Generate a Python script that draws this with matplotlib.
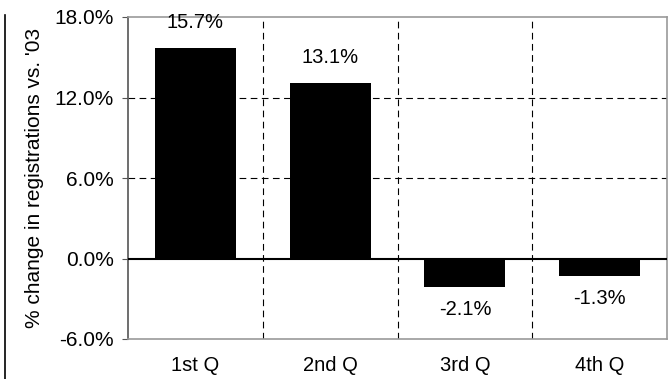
import matplotlib
matplotlib.use("Agg")
import matplotlib.pyplot as plt
from matplotlib.ticker import FuncFormatter

quarters = ["1st Q", "2nd Q", "3rd Q", "4th Q"]
change = [15.7, 13.1, -2.1, -1.3]
y_ticks = [-6, 0, 6, 12, 18]

plt.rcParams['font.family'] = ['Liberation Sans', 'DejaVu Sans']

fig = plt.figure(figsize=(6.7, 3.79), dpi=100)
ax = fig.add_axes([128/670, 1 - 339/379, (667-128)/670, (339-17)/379])

x = list(range(len(quarters)))
ax.bar(x, change, width=0.6, color='black', zorder=3)

ax.set_xlim(-0.5, len(quarters) - 0.5)
ax.set_ylim(-6, 18)
ax.set_yticks(y_ticks)
ax.yaxis.set_major_formatter(FuncFormatter(lambda v, p: "%.1f%%" % v))
ax.set_xticks(x)
ax.set_xticklabels(quarters)
ax.tick_params(axis='x', length=0, pad=12, labelsize=14.5)
ax.tick_params(axis='y', length=4, direction='out', color='#555555', labelsize=15, pad=6)

# dashed grid: horizontal at ticks, vertical between categories
for v in y_ticks[2:4]:
    ax.axhline(v, color='black', lw=0.8, ls=(0, (6, 4)), zorder=1)
for b in [0.5, 1.5, 2.5]:
    ax.axvline(b, color='black', lw=0.8, ls=(0, (6, 4)), zorder=1)
ax.axhline(0, color='black', lw=1.5, zorder=4)

for s in ['top', 'right', 'bottom']:
    ax.spines[s].set_color('#999999')
    ax.spines[s].set_linewidth(1.2)
ax.spines['left'].set_color('#555555')
ax.spines['left'].set_linewidth(1.2)

for xi, v in zip(x, change):
    off = 18.5 if v > 0 else -16.5
    ax.annotate("%.1f%%" % v, (xi, v), xytext=(0, off), textcoords='offset points',
                ha='center', va='center', fontsize=14.5,
                annotation_clip=False, zorder=5)

ax.set_ylabel("% change in registrations vs. '03", fontsize=15, labelpad=8)

# thin line at far left edge
fig.add_artist(plt.Line2D([5/670, 5/670], [0, 1 - 15/379], color='black', lw=1.2,
                          transform=fig.transFigure))

fig.savefig("out.png", dpi=100)
